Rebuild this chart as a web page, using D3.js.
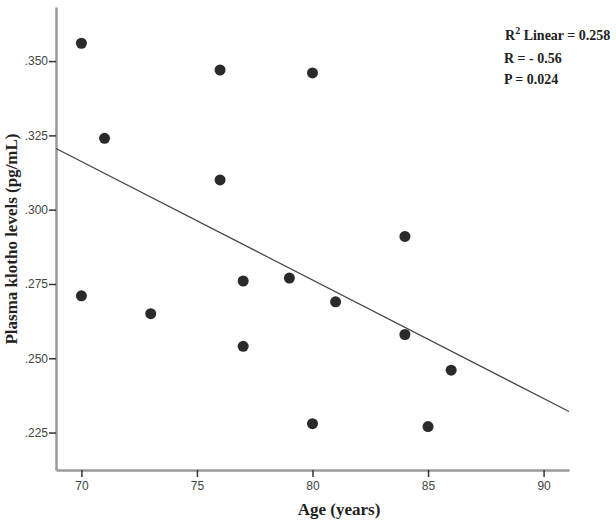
<!DOCTYPE html>
<html>
<head>
<meta charset="utf-8">
<script src="https://cdn.jsdelivr.net/npm/d3@7"></script>
<style>
  body { margin: 0; background: #fff; }
  .tick text { font-family: "Liberation Sans", Arial, sans-serif; font-size: 12px; fill: #444; }
  .lbl { font-family: "Liberation Serif", "Times New Roman", serif; font-weight: bold; fill: #222; }
</style>
</head>
<body>
<svg id="chart" width="616" height="521"></svg>
<script>
// Age (years) and plasma klotho (pg/mL)
const ages = [70, 71, 76, 80, 76, 70, 73, 77, 79, 81, 77, 84, 84, 86, 80, 85];
const klotho = [0.356, 0.324, 0.347, 0.346, 0.310, 0.271, 0.265, 0.276, 0.277, 0.269, 0.254, 0.291, 0.258, 0.246, 0.228, 0.227];
const xTicks = [70, 75, 80, 85, 90];
const yTicks = [0.225, 0.250, 0.275, 0.300, 0.325, 0.350];
const statLines = ["R = - 0.56", "P = 0.024"];

var svg = d3.select("#chart");

var x = d3.scaleLinear().domain([68.9, 91.1]).range([56, 569]),
  y = d3.scaleLinear().domain([0.2124, 0.3682]).range([470, 7]);

var fmtY = (d) => d3.format(".3f")(d).replace(/^0/, "");

// axes
var gx = svg.append("g")
  .attr("transform", "translate(0,470)")
  .call(d3.axisBottom(x).tickValues(xTicks).tickSize(7).tickPadding(4).tickSizeOuter(0));
var gy = svg.append("g")
  .attr("transform", "translate(56,0)")
  .call(d3.axisLeft(y).tickValues(yTicks).tickFormat(fmtY).tickSize(7).tickPadding(1).tickSizeOuter(0));

[gx, gy].forEach((g) => {
  g.select(".domain").attr("stroke", "#9a9a9a").attr("stroke-width", 2.5);
  g.selectAll(".tick line").attr("stroke", "#333").attr("stroke-width", 1.5);
});

// regression line from the points
var mx = d3.mean(ages), my = d3.mean(klotho);
var sxy = d3.sum(ages, (a, i) => (a - mx) * (klotho[i] - my)),
  sxx = d3.sum(ages, (a) => (a - mx) * (a - mx));
var slope = sxy / sxx, icpt = my - slope * mx;
var xd = x.domain();

svg.append("line")
  .attr("x1", x(xd[0])).attr("y1", y(icpt + slope * xd[0]))
  .attr("x2", x(xd[1])).attr("y2", y(icpt + slope * xd[1]))
  .attr("stroke", "#444").attr("stroke-width", 1.2);

// points
svg.append("g")
  .selectAll("circle")
  .data(ages)
  .enter()
  .append("circle")
  .attr("cx", (d) => x(d))
  .attr("cy", (d, i) => y(klotho[i]))
  .attr("r", 5.5)
  .attr("fill", "#2a2a2a");

// axis titles
svg.append("text")
  .attr("class", "lbl")
  .attr("x", 339).attr("y", 515)
  .attr("text-anchor", "middle")
  .attr("font-size", 17)
  .text("Age (years)");

svg.append("text")
  .attr("class", "lbl")
  .attr("transform", "translate(17,239) rotate(-90)")
  .attr("text-anchor", "middle")
  .attr("font-size", 17)
  .text("Plasma klotho levels (pg/mL)");

// fit stats
var r2 = svg.append("text").attr("class", "lbl")
  .attr("x", 505).attr("y", 40).attr("font-size", 14);
r2.append("tspan").text("R");
r2.append("tspan").attr("dy", -6).attr("font-size", 10).text("2");
r2.append("tspan").attr("dy", 6).text("  Linear = 0.258");

svg.selectAll(".stat")
  .data(statLines)
  .enter()
  .append("text")
  .attr("class", "lbl stat")
  .attr("x", 504)
  .attr("y", (d, i) => 63 + i * 21)
  .attr("font-size", 14)
  .text((d) => d);
</script>
</body>
</html>
